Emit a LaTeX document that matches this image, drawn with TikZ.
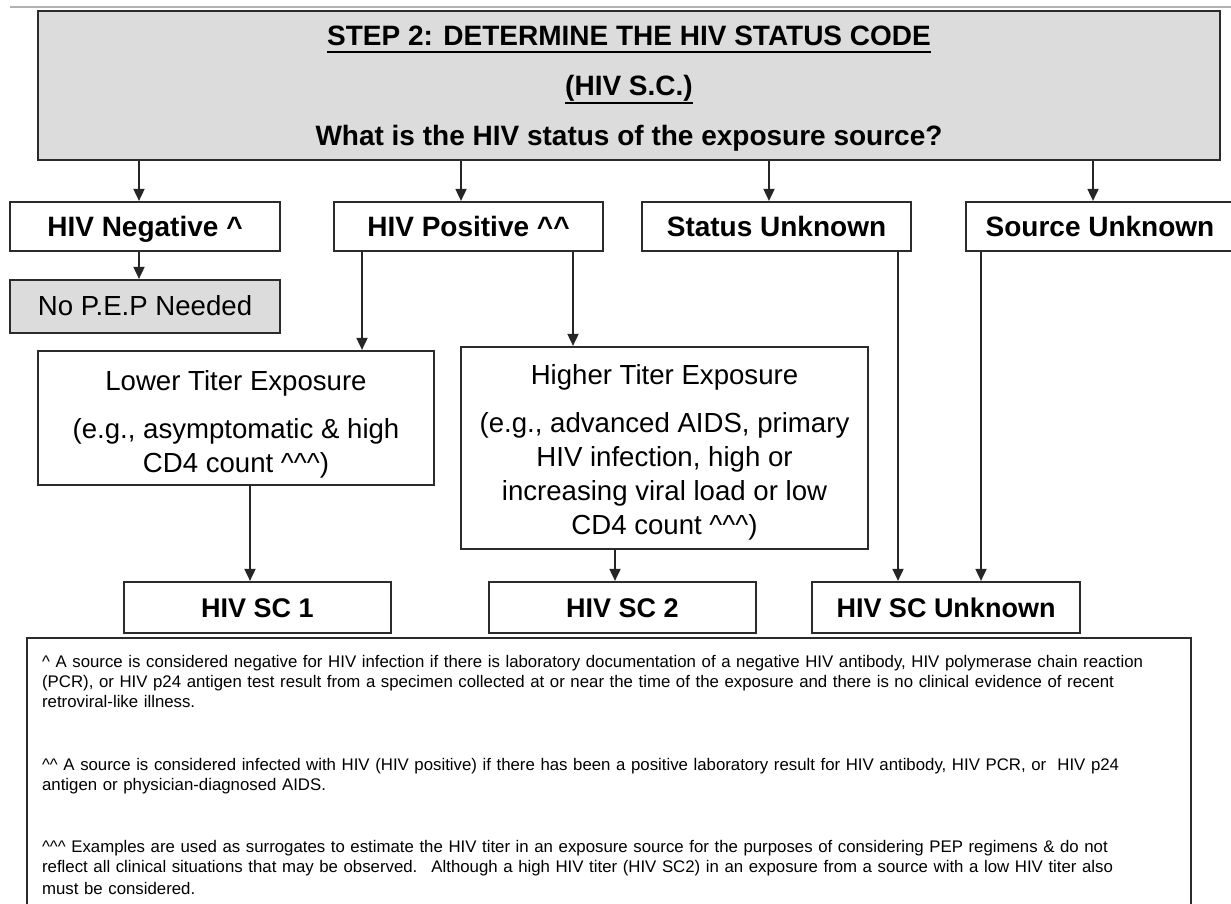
\documentclass[tikz,border=0pt]{standalone}
\usepackage{fontspec}
\setmainfont{Liberation Sans}
\usetikzlibrary{arrows.meta}
\newcommand\myul[2]{\setbox0=\hbox{#2}\rlap{\rule[#1]{\wd0}{2.2pt}}\box0}
\newcommand\ca{\textasciicircum}
\definecolor{boxgray}{HTML}{DCDCDC}
\definecolor{edge}{HTML}{2B2B2B}
\begin{document}
\begin{tikzpicture}[x=1pt,y=-1pt,
  box/.style={draw=edge, line width=2.2pt, inner sep=0pt, fill=white, align=center},
  lbl/.style={font=\fontsize{28}{32}\selectfont\bfseries, text height=20pt, text depth=0pt},
  sclbl/.style={font=\fontsize{27}{32}\selectfont\bfseries, text height=20pt, text depth=0pt},
  reg/.style={font=\fontsize{27.6}{34}\selectfont, text depth=0pt},
  arr/.style={line width=1.8pt, draw=black!85, -{Triangle[length=12pt,width=11pt]}}]
\useasboundingbox (0,0) rectangle (1231,904);
\draw[line width=2pt, draw=black!30] (10,7) -- (1231,7);

\node[box, fill=boxgray, minimum width=1182pt, minimum height=149pt, text depth=0pt,
  font=\fontsize{28}{50}\selectfont\bfseries] (top) at (629,85.5)
  {\myul{-7.5pt}{STEP 2: DETERMINE THE HIV STATUS CODE}\\\myul{-8.5pt}{(HIV S.C.)}\\What is the HIV status of the exposure source?};

\node[box, lbl, minimum width=270pt, minimum height=49pt] (neg) at (145,226.5) {HIV Negative \ca};
\node[box, lbl, minimum width=269pt, minimum height=49pt] (pos) at (468.5,226.5) {HIV Positive \ca\ca};
\node[box, lbl, minimum width=269pt, minimum height=49pt] (stat) at (776.5,226.5) {Status Unknown};
\node[box, lbl, minimum width=268pt, minimum height=49pt] (src) at (1100,226.5) {Source Unknown};

\node[box, fill=boxgray, font=\fontsize{27.6}{32}\selectfont, text height=18pt, text depth=0pt,
  minimum width=270pt, minimum height=53pt] (nopep) at (145,306.5) {No P.E.P Needed};

\node[box, reg, minimum width=396pt, minimum height=134pt] (lower) at (236,418)
  {\rule{0pt}{26pt}Lower Titer Exposure\\[14pt](e.g., asymptomatic \& high\\CD4 count \ca\ca\ca)};
\node[box, reg, minimum width=407pt, minimum height=202pt] (higher) at (664.5,448)
  {\rule{0pt}{22pt}Higher Titer Exposure\\[14pt](e.g., advanced AIDS, primary\\HIV infection, high or\\increasing viral load or low\\CD4 count \ca\ca\ca)};

\node[draw=edge, line width=2.2pt, anchor=north west, inner xsep=15pt, inner ysep=0pt,
  minimum height=274pt, text width=1134pt, align=left,
  font=\fontsize{16.8}{20}\selectfont] (foot) at (26,637)
  {\ca{} A source is considered negative for HIV infection if there is laboratory documentation of a negative HIV antibody, HIV polymerase chain reaction\\
   (PCR), or HIV p24 antigen test result from a specimen collected at or near the time of the exposure and there is no clinical evidence of recent\\
   retroviral-like illness.\\[43pt]
   \ca\ca{} A source is considered infected with HIV (HIV positive) if there has been a positive laboratory result for HIV antibody, HIV PCR, or~ HIV p24\\
   antigen or physician-diagnosed AIDS.\\[42pt]
   \ca\ca\ca{} Examples are used as surrogates to estimate the HIV titer in an exposure source for the purposes of considering PEP regimens \& do not\\
   reflect all clinical situations that may be observed.~ Although a high HIV titer (HIV SC2) in an exposure from a source with a low HIV titer also\\[2pt]
   must be considered.};

\node[box, sclbl, minimum width=267pt, minimum height=51pt] (sc1) at (257.5,607.5) {HIV SC 1};
\node[box, sclbl, minimum width=267pt, minimum height=51pt] (sc2) at (622.5,607.5) {HIV SC 2};
\node[box, sclbl, minimum width=268pt, minimum height=51pt] (scu) at (946,607.5) {HIV SC Unknown};

\draw[arr] (top.south -| 139,0) -- (neg.north -| 139,0);
\draw[arr] (top.south -| 461,0) -- (pos.north -| 461,0);
\draw[arr] (top.south -| 769,0) -- (stat.north -| 769,0);
\draw[arr] (top.south -| 1093,0) -- (src.north -| 1093,0);
\draw[arr] (neg.south -| 139,0) -- (nopep.north -| 139,0);
\draw[arr] (pos.south -| 362,0) -- (lower.north -| 362,0);
\draw[arr] (pos.south -| 573,0) -- (higher.north -| 573,0);
\draw[arr] (stat.south -| 898,0) -- (scu.north -| 898,0);
\draw[arr] (src.south -| 981,0) -- (scu.north -| 981,0);
\draw[arr] (lower.south -| 250,0) -- (sc1.north -| 250,0);
\draw[arr] (higher.south -| 615,0) -- (sc2.north -| 615,0);
\end{tikzpicture}
\end{document}
